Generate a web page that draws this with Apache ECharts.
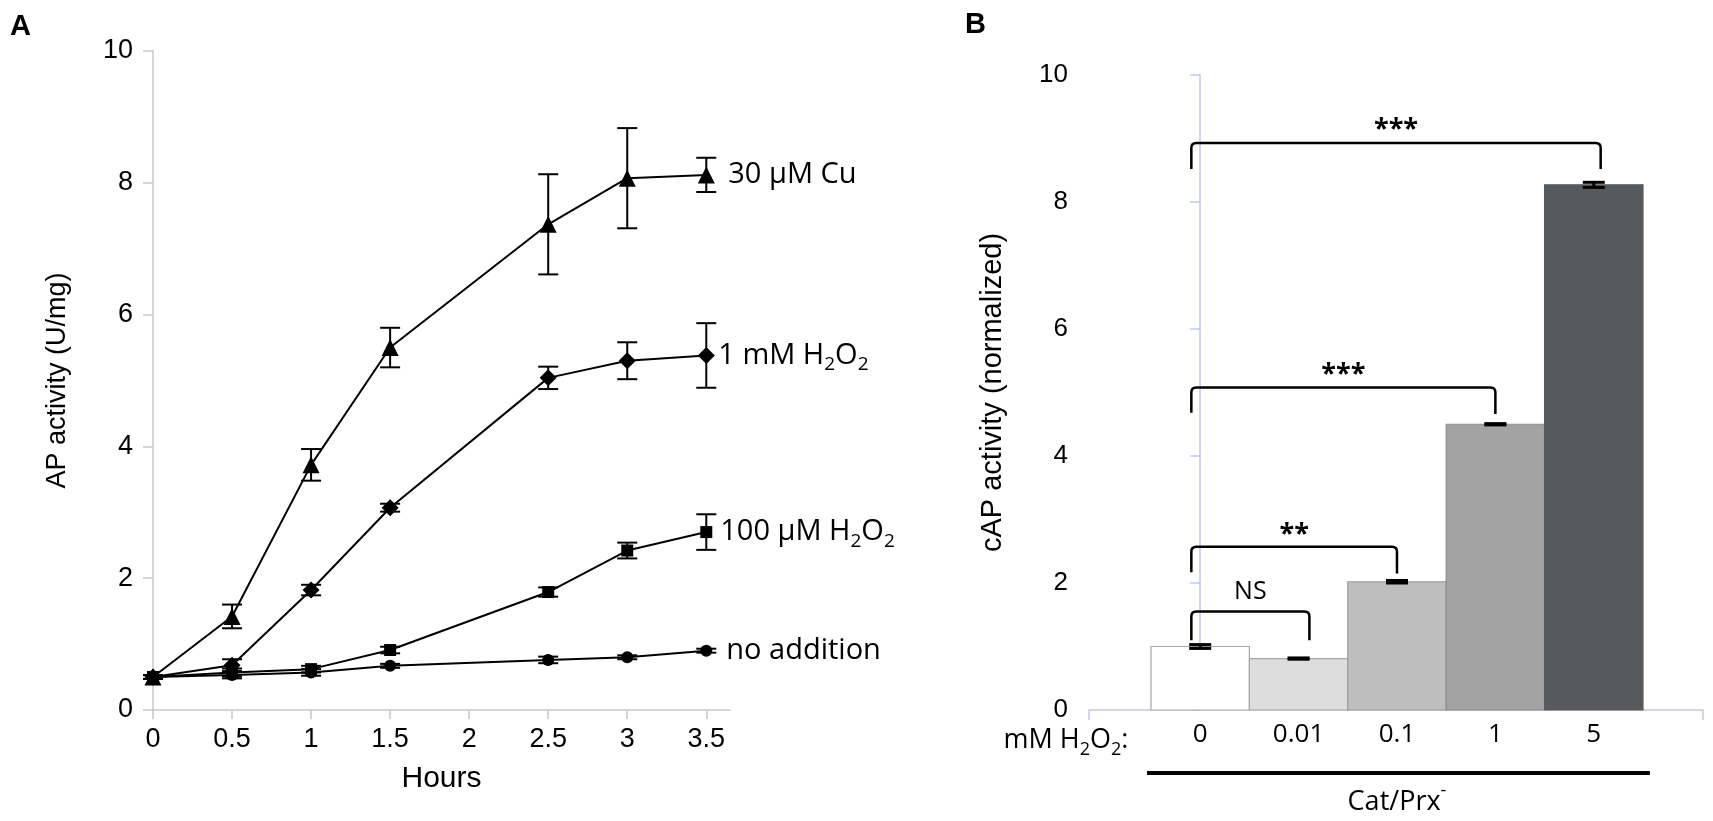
<!DOCTYPE html>
<html><head><meta charset="utf-8">
<script src="https://cdn.jsdelivr.net/npm/echarts@6/dist/echarts.min.js"></script>
<style>html,body{margin:0;padding:0;background:#fff;}#c{width:1713px;height:821px;}</style>
</head><body><div id="c"></div>
<script>
// ---------- Panel A data ----------
const hours = [0, 0.5, 1, 1.5, 2.5, 3, 3.5];
const xTicksA = [0, 0.5, 1, 1.5, 2, 2.5, 3, 3.5];
const yTicks = [0, 2, 4, 6, 8, 10];
const cuMean   = [0.50, 1.42, 3.72, 5.50, 7.37, 8.07, 8.12];
const cuErr    = [0.03, 0.18, 0.24, 0.30, 0.76, 0.76, 0.26];
const h1Mean   = [0.50, 0.68, 1.82, 3.07, 5.04, 5.30, 5.38];
const h1Err    = [0.03, 0.09, 0.08, 0.06, 0.17, 0.28, 0.49];
const h100Mean = [0.50, 0.57, 0.62, 0.91, 1.79, 2.42, 2.70];
const h100Err  = [0.03, 0.06, 0.05, 0.05, 0.07, 0.12, 0.27];
const noneMean = [0.50, 0.53, 0.57, 0.67, 0.76, 0.80, 0.90];
const noneErr  = [0.03, 0.05, 0.05, 0.03, 0.05, 0.03, 0.03];
const seriesNamesA = ['30 µM Cu', '1 mM H{s|2}O{s|2}', '100 µM H{s|2}O{s|2}', 'no addition'];

// ---------- Panel B data ----------
const doses = ['0', '0.01', '0.1', '1', '5'];
const capMean = [1.00, 0.81, 2.02, 4.50, 8.27];
const capErr  = [0.03, 0.01, 0.02, 0.01, 0.04];
// brackets: [xLeft, xRight, yTop, yLeftLeg, yRightLeg, yText]
const bracketData = [
  [-0.09, 1.11, 1.55, 1.10, 1.10, 1.86],
  [-0.09, 2.00, 2.57, 2.17, 2.15, 2.87],
  [-0.09, 3.00, 5.08, 4.68, 4.66, 5.40],
  [-0.09, 4.07, 8.93, 8.52, 8.52, 9.26]
];
const bracketLabels = ['NS', '**', '***', '***'];

// ---------- build ----------
const chart = echarts.init(document.getElementById('c'), null, {renderer: 'canvas'});
const pairs = (m) => hours.map((h, i) => [h, m[i]]);
const errs = (m, e) => hours.map((h, i) => [h, m[i] - e[i], m[i] + e[i]]);
const meansA = [cuMean, h1Mean, h100Mean, noneMean];
const errsA = [cuErr, h1Err, h100Err, noneErr];
const symbols = ['triangle', 'diamond', 'rect', 'circle'];
const symSizes = [17, 17, 12, 12];
const labelDist = [22, 12, 14, 20];
const barFill = ['#ffffff', '#dcdddc', '#bebebe', '#a3a3a3', '#58595b'];
const barStroke = ['#a8a8a8', '#a8a8a8', '#9a9a9a', '#8e8e8e', '#58595b'];

const armFont = 'Liberation Sans, Arial, sans-serif';
const calFont = 'Open Sans, sans-serif';

function errRender(capHalf, lw) {
  return function (params, api) {
    const x = api.value(0);
    const lo = api.coord([x, api.value(1)]);
    const hi = api.coord([x, api.value(2)]);
    const st = {stroke: '#000', lineWidth: lw};
    return {type: 'group', children: [
      {type: 'line', shape: {x1: lo[0], y1: lo[1], x2: hi[0], y2: hi[1]}, style: st},
      {type: 'line', shape: {x1: lo[0] - capHalf, y1: lo[1], x2: lo[0] + capHalf, y2: lo[1]}, style: st},
      {type: 'line', shape: {x1: hi[0] - capHalf, y1: hi[1], x2: hi[0] + capHalf, y2: hi[1]}, style: st}
    ]};
  };
}

const series = [];
meansA.forEach((m, k) => {
  series.push({
    type: 'custom', xAxisIndex: 0, yAxisIndex: 0, data: errs(m, errsA[k]),
    renderItem: errRender(10, 2), encode: {x: 0, y: [1, 2]}, z: 2, silent: true
  });
});
meansA.forEach((m, k) => {
  series.push({
    type: 'line', name: seriesNamesA[k], xAxisIndex: 0, yAxisIndex: 0,
    data: pairs(m), symbol: symbols[k], symbolSize: symSizes[k], showAllSymbol: true,
    lineStyle: {color: '#000', width: 2}, itemStyle: {color: '#000'}, z: 3,
    endLabel: {
      show: true, formatter: seriesNamesA[k], distance: labelDist[k],
      fontFamily: calFont, fontSize: 29, color: '#000', lineHeight: 30,
      rich: {s: {fontFamily: calFont, fontSize: 19, lineHeight: 38, verticalAlign: 'bottom', color: '#000'}}
    }
  });
});
// bars B
series.push({
  type: 'custom', xAxisIndex: 1, yAxisIndex: 1,
  data: capMean.map((v, i) => [i, v]), encode: {x: 0, y: 1}, z: 2,
  renderItem: function (params, api) {
    const i = api.value(0);
    const p0 = api.coord([i - 0.5, 0]);
    const p1 = api.coord([i + 0.5, api.value(1)]);
    return {type: 'rect', shape: {x: p0[0], y: p1[1], width: p1[0] - p0[0], height: p0[1] - p1[1]},
      style: {fill: barFill[params.dataIndex], stroke: barStroke[params.dataIndex], lineWidth: 1.2}};
  }
});
series.push({
  type: 'custom', xAxisIndex: 1, yAxisIndex: 1,
  data: capMean.map((v, i) => [i, v - capErr[i], v + capErr[i]]), encode: {x: 0, y: [1, 2]}, z: 3,
  renderItem: errRender(11, 3)
});
series.push({
  type: 'custom', xAxisIndex: 1, yAxisIndex: 1,
  data: bracketData, encode: {x: [0, 1], y: [2, 3, 4, 5]}, z: 4,
  renderItem: function (params, api) {
    const x1 = api.value(0), x2 = api.value(1), top = api.value(2);
    const a = api.coord([x1, api.value(3)]);
    const b = api.coord([x1, top]);
    const c = api.coord([x2, top]);
    const d = api.coord([x2, api.value(4)]);
    const t = api.coord([(x1 + x2) / 2, api.value(5)]);
    const lab = bracketLabels[params.dataIndex];
    const isStar = lab.indexOf('*') >= 0;
    const r = 5;
    const path = 'M' + a[0] + ' ' + a[1] + ' L' + b[0] + ' ' + (b[1] + r) +
      ' Q' + b[0] + ' ' + b[1] + ' ' + (b[0] + r) + ' ' + b[1] +
      ' L' + (c[0] - r) + ' ' + c[1] + ' Q' + c[0] + ' ' + c[1] + ' ' + c[0] + ' ' + (c[1] + r) +
      ' L' + d[0] + ' ' + d[1];
    return {type: 'group', children: [
      {type: 'path', shape: {pathData: path}, style: {stroke: '#000', lineWidth: 2.5, fill: null}},
      {type: 'text', x: t[0], y: t[1] + (isStar ? 7 : 0), style: {
        text: lab, fontFamily: calFont, fontSize: isStar ? 27 : 25, fontWeight: isStar ? 'bold' : 'normal',
        fill: '#000', align: 'center', verticalAlign: 'middle'}}
    ]};
  }
});

const option = {
  animation: false,
  backgroundColor: '#fff',
  grid: [
    {left: 153, top: 51, width: 577, height: 659},
    {left: 1089, top: 75, width: 614, height: 635}
  ],
  xAxis: [
    {
      type: 'value', gridIndex: 0, min: 0, max: 3.65,
      name: 'Hours', nameLocation: 'middle', nameGap: 54,
      nameTextStyle: {fontFamily: armFont, fontSize: 30, color: '#000'},
      axisLine: {lineStyle: {color: '#c8c8c8', width: 1.5}},
      axisTick: {show: true, length: 9, lineStyle: {color: '#c8c8c8', width: 1.5}, customValues: xTicksA},
      axisLabel: {customValues: xTicksA, fontFamily: armFont, fontSize: 27, color: '#000', margin: 16,
        formatter: (v) => String(v)},
      splitLine: {show: false}
    },
    {
      type: 'value', gridIndex: 1, min: -1.13, max: 5.11,
      axisLine: {lineStyle: {color: '#c9c9d6', width: 1.5}},
      axisTick: {show: true, length: 10, lineStyle: {color: '#c4c6ec', width: 1.5}, customValues: [-1.13, 5.11]},
      axisLabel: {customValues: [0, 1, 2, 3, 4], fontFamily: calFont, fontSize: 26, color: '#000', margin: 12,
        formatter: (v) => doses[Math.round(v)]},
      splitLine: {show: false}
    }
  ],
  yAxis: [
    {
      type: 'value', gridIndex: 0, min: 0, max: 10, interval: 2,
      name: 'AP activity (U/mg)', nameLocation: 'middle', nameGap: 82,
      nameTextStyle: {fontFamily: armFont, fontSize: 27, color: '#000'},
      axisLine: {show: true, lineStyle: {color: '#c8c8c8', width: 1.5}},
      axisTick: {show: true, length: 10, lineStyle: {color: '#c8c8c8', width: 1.5}},
      axisLabel: {fontFamily: armFont, fontSize: 27, color: '#000', margin: 20},
      splitLine: {show: false}
    },
    {
      type: 'value', gridIndex: 1, min: 0, max: 10, interval: 2,
      name: 'cAP activity (normalized)', nameLocation: 'middle', nameGap: 82,
      nameTextStyle: {fontFamily: armFont, fontSize: 29, color: '#000'},
      axisLine: {show: true, lineStyle: {color: '#c4c6ec', width: 1.5}},
      axisTick: {show: true, length: 10, lineStyle: {color: '#c4c6ec', width: 1.5}},
      axisLabel: {fontFamily: armFont, fontSize: 26, color: '#000', margin: 21},
      splitLine: {show: false}
    }
  ],
  series: series
};
chart.setOption(option);

// annotations below panel B (group bar and labels), placed via the axis scale
const gL = chart.convertToPixel({xAxisIndex: 1}, -0.54);
const gR = chart.convertToPixel({xAxisIndex: 1}, 4.57);
const gC = chart.convertToPixel({xAxisIndex: 1}, 2.0);
const gStart = chart.convertToPixel({xAxisIndex: 1}, -0.73);
chart.setOption({
  graphic: [
    {type: 'text', left: 10, top: 12, style: {text: 'A', fontFamily: armFont, fontWeight: 'bold', fontSize: 29, fill: '#000'}},
    {type: 'text', left: 965, top: 10, style: {text: 'B', fontFamily: armFont, fontWeight: 'bold', fontSize: 29, fill: '#000'}},
    {type: 'line', shape: {x1: gL, y1: 773, x2: gR, y2: 773}, style: {stroke: '#000', lineWidth: 4}},
    {type: 'text', x: gC, y: 802, style: {text: 'Cat/Prx{p|-}', fontFamily: calFont, fontSize: 27, fill: '#000',
      align: 'center', verticalAlign: 'middle',
      rich: {p: {fontFamily: calFont, fontSize: 18, verticalAlign: 'top', lineHeight: 40}}}},
    {type: 'text', x: gStart, y: 740, style: {text: 'mM H{s|2}O{s|2}:', fontFamily: calFont, fontSize: 27, fill: '#000',
      align: 'right', verticalAlign: 'middle',
      rich: {s: {fontFamily: calFont, fontSize: 18, lineHeight: 38, verticalAlign: 'bottom'}}}}
  ]
});
</script></body></html>
